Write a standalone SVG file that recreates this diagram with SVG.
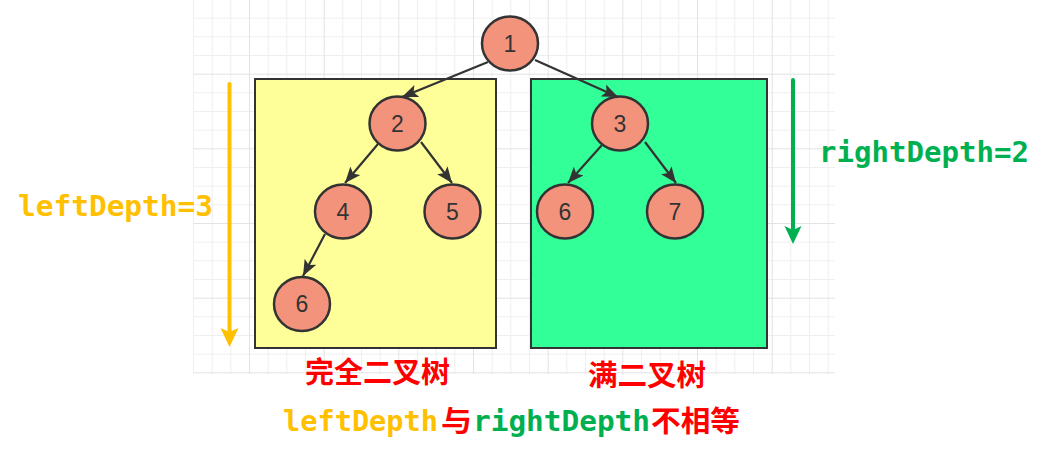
<svg xmlns="http://www.w3.org/2000/svg" width="1050" height="457" viewBox="0 0 1050 457">
<style>
.minor{stroke:#efefef;stroke-width:1;fill:none}
.major{stroke:#e3e3e3;stroke-width:1;fill:none}
.box{stroke:#333;stroke-width:2}
.node ellipse{fill:#f4937c;stroke:#333;stroke-width:2.5}
.node text{font-family:"Liberation Sans",Arial,sans-serif;font-size:23px;fill:#333;text-anchor:middle}
.edge{stroke:#333;stroke-width:2.2;fill:none;marker-end:url(#arr)}
.mono{font-family:"DejaVu Sans Mono","Liberation Mono",monospace;font-weight:bold;font-size:29px}
.cjk{font-family:"Noto Sans CJK SC","Noto Sans CJK TC",sans-serif;font-weight:bold;font-size:29px;fill:#ff0000}
</style>
<defs>
<marker id="arr" markerUnits="userSpaceOnUse" markerWidth="18" markerHeight="14" refX="16" refY="6.5" orient="auto">
<path d="M0,0 L16,6.5 L0,13 L3.5,6.5 z" fill="#333"/>
</marker>
</defs>
<rect width="1050" height="457" fill="#fff"/>
<g id="grid">
<path class="minor" d="M193.5 0V374M212.2 0V374M230.8 0V374M268.2 0V374M286.8 0V374M305.5 0V374M342.8 0V374M361.5 0V374M380.2 0V374M417.5 0V374M436.2 0V374M454.8 0V374M492.2 0V374M510.8 0V374M529.5 0V374M566.8 0V374M585.5 0V374M604.2 0V374M641.5 0V374M660.2 0V374M678.8 0V374M716.2 0V374M734.8 0V374M753.5 0V374M790.8 0V374M809.5 0V374M828.2 0V374M193 18.2H835M193 36.8H835M193 55.5H835M193 92.8H835M193 111.5H835M193 130.2H835M193 167.5H835M193 186.2H835M193 204.8H835M193 242.2H835M193 260.8H835M193 279.5H835M193 316.8H835M193 335.5H835M193 354.2H835"/>
<path class="major" d="M249.5 0V374M324.2 0V374M398.8 0V374M473.5 0V374M548.2 0V374M622.8 0V374M697.5 0V374M772.2 0V374M193 74.2H835M193 148.8H835M193 223.5H835M193 298.2H835M193 372.8H835"/>
</g>
<g id="complete-box"><rect class="box" x="255" y="79" width="241" height="269" fill="#ffff99"/></g>
<g id="full-box"><rect class="box" x="531" y="79" width="236" height="269" fill="#33ff99"/></g>
<g id="connectors">
<line class="edge" x1="488" y1="62" x2="402" y2="97"/>
<line class="edge" x1="535" y1="60" x2="618" y2="97"/>
<line class="edge" x1="378" y1="144" x2="345" y2="183"/>
<line class="edge" x1="421" y1="142" x2="452" y2="183"/>
<line class="edge" x1="602" y1="145" x2="568" y2="183"/>
<line class="edge" x1="645" y1="142" x2="676" y2="183"/>
<line class="edge" x1="325" y1="234" x2="303" y2="276"/>
</g>
<g id="n1" class="node"><ellipse cx="510" cy="43.5" rx="28" ry="27"/><text x="510" y="51.5">1</text></g>
<g id="n2" class="node"><ellipse cx="397.5" cy="123.5" rx="28" ry="27"/><text x="397.5" y="131.5">2</text></g>
<g id="n3" class="node"><ellipse cx="620" cy="123.5" rx="28" ry="27"/><text x="620" y="131.5">3</text></g>
<g id="n4" class="node"><ellipse cx="343" cy="211.5" rx="28" ry="27"/><text x="343" y="219.5">4</text></g>
<g id="n5" class="node"><ellipse cx="452.5" cy="211.5" rx="28" ry="27"/><text x="452.5" y="219.5">5</text></g>
<g id="n6r" class="node"><ellipse cx="565" cy="211.5" rx="28" ry="27"/><text x="565" y="219.5">6</text></g>
<g id="n7" class="node"><ellipse cx="675" cy="211.5" rx="28" ry="27"/><text x="675" y="219.5">7</text></g>
<g id="n6l" class="node"><ellipse cx="302" cy="304" rx="28" ry="27"/><text x="302" y="312">6</text></g>
<g id="depth-arrows">
<line x1="229.5" y1="84" x2="229.5" y2="333" stroke="#ffc000" stroke-width="4" stroke-linecap="round"/>
<path d="M220.5,328 L229.5,347 L238.5,328 L229.5,332 z" fill="#ffc000"/>
<line x1="793" y1="80" x2="793" y2="229" stroke="#00b050" stroke-width="4" stroke-linecap="round"/>
<path d="M784.5,226 L793,244 L801.5,226 L793,230 z" fill="#00b050"/>
</g>
<g id="labels">
<text class="mono" x="18" y="216" fill="#ffc000" textLength="195" lengthAdjust="spacingAndGlyphs">leftDepth=3</text>
<text class="mono" x="819" y="162" fill="#00b050" textLength="210" lengthAdjust="spacingAndGlyphs">rightDepth=2</text>
<text class="cjk" x="305" y="383" textLength="145" lengthAdjust="spacingAndGlyphs">完全二叉树</text>
<text class="cjk" x="588" y="386" textLength="118" lengthAdjust="spacingAndGlyphs">满二叉树</text>
<text class="mono" x="283" y="431" fill="#ffc000" textLength="155" lengthAdjust="spacingAndGlyphs">leftDepth</text>
<text class="cjk" x="441" y="432" textLength="31" lengthAdjust="spacingAndGlyphs">与</text>
<text class="mono" x="473" y="431" fill="#00b050" textLength="177" lengthAdjust="spacingAndGlyphs">rightDepth</text>
<text class="cjk" x="651" y="432" textLength="89" lengthAdjust="spacingAndGlyphs">不相等</text>
</g>
</svg>
